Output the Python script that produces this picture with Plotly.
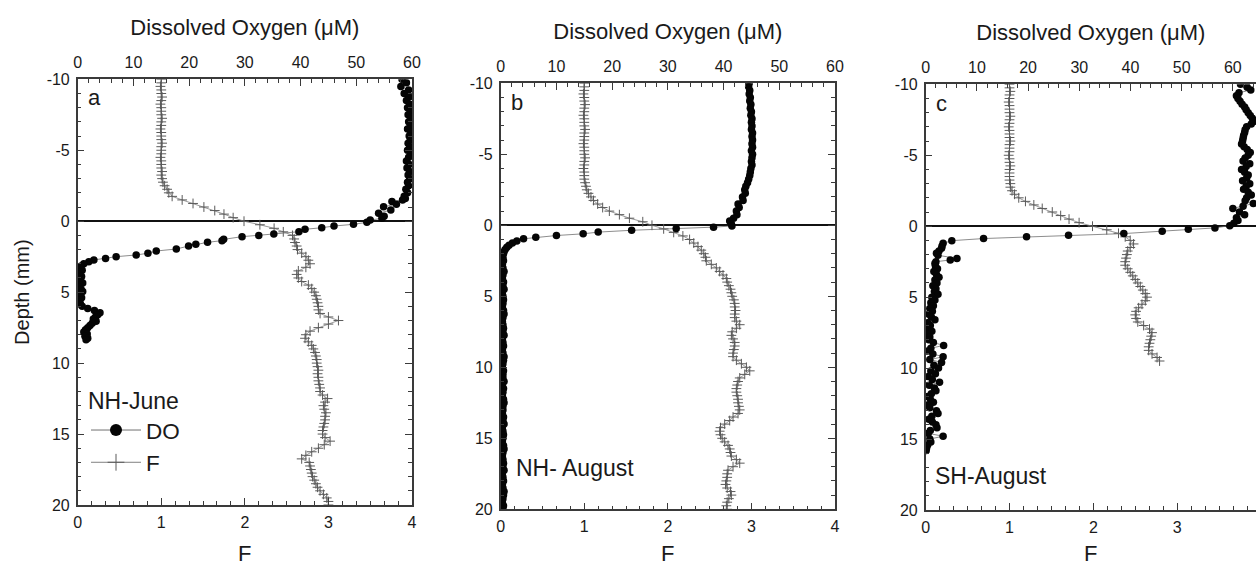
import plotly.graph_objects as go

FONT = "Arial, 'Liberation Sans', sans-serif"
W, H = 1256, 566

# ---------------------------------------------------------------- data
# Depth grid (mm) of the fluorescence (F) profiles
F_DEPTH = [-10.0, -9.75, -9.5, -9.25, -9.0, -8.75, -8.5, -8.25, -8.0, -7.75,
           -7.5, -7.25, -7.0, -6.75, -6.5, -6.25, -6.0, -5.75, -5.5, -5.25,
           -5.0, -4.75, -4.5, -4.25, -4.0, -3.75, -3.5, -3.25, -3.0, -2.75,
           -2.5, -2.25, -2.0, -1.75, -1.5, -1.25, -1.0, -0.75, -0.5, -0.25,
           0.0, 0.25, 0.5, 0.75, 1.0, 1.25, 1.5, 1.75, 2.0, 2.25,
           2.5, 2.75, 3.0, 3.25, 3.5, 3.75, 4.0, 4.25, 4.5, 4.75,
           5.0, 5.25, 5.5, 5.75, 6.0, 6.25, 6.5, 6.75, 7.0, 7.25,
           7.5, 7.75, 8.0, 8.25, 8.5, 8.75, 9.0, 9.25, 9.5, 9.75,
           10.0, 10.25, 10.5, 10.75, 11.0, 11.25, 11.5, 11.75, 12.0, 12.25,
           12.5, 12.75, 13.0, 13.25, 13.5, 13.75, 14.0, 14.25, 14.5, 14.75,
           15.0, 15.25, 15.5, 15.75, 16.0, 16.25, 16.5, 16.75, 17.0, 17.25,
           17.5, 17.75, 18.0, 18.25, 18.5, 18.75, 19.0, 19.25, 19.5, 19.75,
           20.0]

# NH-June fluorescence
A_F = [1.00, 1.00, 0.99, 1.00, 1.00, 1.01, 1.00, 0.99, 1.00, 1.00,
       1.00, 1.01, 1.00, 1.00, 0.99, 1.00, 1.00, 1.00, 1.01, 1.00,
       1.00, 1.00, 0.99, 1.00, 1.00, 1.00, 1.01, 1.00, 1.01, 1.02,
       1.04, 1.07, 1.09, 1.13, 1.25, 1.38, 1.51, 1.64, 1.75, 1.86,
       1.99, 2.18, 2.35, 2.46, 2.57, 2.59, 2.60, 2.62, 2.63, 2.68,
       2.73, 2.76, 2.78, 2.73, 2.64, 2.62, 2.64, 2.68, 2.76, 2.80,
       2.83, 2.85, 2.86, 2.87, 2.88, 2.88, 2.90, 3.00, 3.12, 3.00,
       2.88, 2.78, 2.73, 2.72, 2.76, 2.80, 2.82, 2.84, 2.85, 2.86,
       2.86, 2.87, 2.88, 2.87, 2.88, 2.88, 2.89, 2.90, 2.90, 2.93,
       2.99, 2.96, 2.94, 2.95, 2.97, 2.96, 2.96, 2.95, 2.94, 2.93,
       2.93, 2.96, 3.02, 2.95, 2.88, 2.80, 2.73, 2.68, 2.77, 2.78,
       2.79, 2.80, 2.81, 2.83, 2.85, 2.87, 2.90, 2.94, 2.98, 3.00,
       3.00]

# NH-August fluorescence
B_F = [1.00, 1.00, 1.00, 0.99, 1.00, 1.00, 1.01, 1.00, 1.00, 0.99,
       1.00, 1.00, 1.00, 1.01, 1.00, 1.00, 1.00, 0.99, 1.00, 1.00,
       1.00, 1.01, 1.00, 1.00, 0.99, 1.00, 1.00, 1.00, 1.01, 1.02,
       1.03, 1.05, 1.08, 1.11, 1.16, 1.22, 1.30, 1.42, 1.54, 1.70,
       1.81, 1.95, 2.07, 2.18, 2.26, 2.31, 2.36, 2.40, 2.43, 2.45,
       2.46, 2.52, 2.58, 2.62, 2.66, 2.70, 2.71, 2.73, 2.75, 2.76,
       2.77, 2.79, 2.80, 2.80, 2.81, 2.80, 2.80, 2.82, 2.86, 2.82,
       2.77, 2.76, 2.78, 2.80, 2.80, 2.79, 2.78, 2.78, 2.82, 2.88,
       2.94, 2.98, 2.92, 2.86, 2.84, 2.83, 2.82, 2.82, 2.83, 2.84,
       2.84, 2.85, 2.86, 2.84, 2.78, 2.74, 2.68, 2.63, 2.62, 2.63,
       2.65, 2.68, 2.72, 2.74, 2.75, 2.76, 2.82, 2.86, 2.78, 2.72,
       2.71, 2.71, 2.70, 2.69, 2.71, 2.75, 2.76, 2.73, 2.71, 2.70,
       2.71]

# SH-August fluorescence (profile ends at 9.5 mm)
C_F = [1.00, 1.00, 1.01, 1.00, 1.00, 0.99, 1.00, 1.00, 1.00, 1.01,
       1.00, 1.00, 0.99, 1.00, 1.00, 1.00, 1.01, 1.00, 1.00, 1.00,
       0.99, 1.00, 1.00, 1.01, 1.00, 1.00, 1.00, 1.00, 1.01, 1.01,
       1.03, 1.06, 1.11, 1.19, 1.29, 1.39, 1.51, 1.61, 1.71, 1.83,
       1.99, 2.16, 2.30, 2.38, 2.44, 2.48, 2.44, 2.41, 2.40, 2.39,
       2.38, 2.38, 2.41, 2.44, 2.47, 2.50, 2.53, 2.56, 2.59, 2.62,
       2.64, 2.62, 2.58, 2.54, 2.51, 2.50, 2.51, 2.53, 2.60, 2.67,
       2.70, 2.69, 2.68, 2.67, 2.66, 2.66, 2.70, 2.76, 2.79]
C_F_DEPTH = F_DEPTH[:len(C_F)]

# NH-June dissolved oxygen (uM)
A_DO_DEPTH = [-10.0, -9.75, -9.5, -9.25, -9.0, -8.75, -8.5, -8.25, -8.0, -7.75,
              -7.5, -7.25, -7.0, -6.75, -6.5, -6.25, -6.0, -5.75, -5.5, -5.25,
              -5.0, -4.75, -4.5, -4.25, -4.0, -3.75, -3.5, -3.25, -3.0, -2.75,
              -2.5, -2.25, -2.0, -1.75, -1.6, -1.49, -1.38, -1.2, -1.02, -0.79,
              -0.56, -0.35, -0.2, -0.08, 0.08, 0.22, 0.34, 0.46, 0.57, 0.74,
              0.9, 1.0, 1.09, 1.28, 1.37, 1.49, 1.63, 1.75, 1.96, 2.1,
              2.26, 2.38, 2.5, 2.62, 2.73, 2.85, 3.0, 3.15, 3.3, 3.45,
              3.6, 3.75, 3.9, 4.05, 4.2, 4.35, 4.5, 4.65, 4.8, 4.95,
              5.1, 5.25, 5.4, 5.55, 5.7, 5.85, 6.0, 6.15, 6.3, 6.45,
              6.6, 6.75, 6.9, 7.05, 7.2, 7.35, 7.5, 7.65, 7.8, 7.95,
              8.1, 8.25, 8.35]
A_DO = [58.2, 59.0, 58.0, 59.4, 58.6, 59.5, 59.0, 59.6, 59.2, 59.7,
        59.3, 59.8, 59.4, 59.7, 59.2, 59.8, 59.5, 59.7, 59.3, 59.6,
        59.2, 59.8, 59.4, 59.0, 59.5, 59.1, 59.6, 59.3, 59.6, 59.2,
        59.4, 58.9, 59.2, 58.6, 58.8, 58.3, 56.4, 57.2, 54.9, 56.2,
        54.0, 55.0, 54.6, 52.5, 51.9, 49.5, 46.0, 43.8, 40.8, 39.7,
        35.2, 32.5, 29.5, 26.2, 25.9, 23.3, 21.2, 19.9, 17.7, 14.1,
        12.6, 10.5, 6.9, 5.0, 2.9, 2.0, 1.1, 0.6, 0.3, 0.8,
        0.4, 0.2, 0.7, 0.3, 0.5, 0.9, 0.4, 0.2, 0.6, 0.9,
        0.5, 0.3, 0.7, 0.4, 0.2, 0.5, 0.8, 1.8, 3.0, 4.0,
        3.6, 3.2, 2.8, 3.3, 2.6, 2.2, 1.8, 1.4, 1.1, 1.7,
        1.3, 1.8, 1.5]

# NH-August dissolved oxygen (uM)
B_DO_DEPTH = [-10.0, -9.75, -9.5, -9.25, -9.0, -8.75, -8.5, -8.25, -8.0, -7.75,
              -7.5, -7.25, -7.0, -6.75, -6.5, -6.25, -6.0, -5.75, -5.5, -5.25,
              -5.0, -4.75, -4.5, -4.25, -4.0, -3.75, -3.5, -3.25, -3.0, -2.75,
              -2.5, -2.25, -2.0, -1.75, -1.5, -1.25, -1.0, -0.75, -0.5, -0.3,
              -0.1, 0.05, 0.13, 0.22, 0.35, 0.48, 0.6, 0.72, 0.84, 0.95,
              1.1, 1.25, 1.4, 1.55, 1.7, 1.85, 2.0, 2.25, 2.5, 2.75,
              3.0, 3.25, 3.5, 3.75, 4.0, 4.25, 4.5, 4.75, 5.0, 5.25,
              5.5, 5.75, 6.0, 6.25, 6.5, 6.75, 7.0, 7.25, 7.5, 7.75,
              8.0, 8.25, 8.5, 8.75, 9.0, 9.25, 9.5, 9.75, 10.0, 10.25,
              10.5, 10.75, 11.0, 11.25, 11.5, 11.75, 12.0, 12.25, 12.5, 12.75,
              13.0, 13.25, 13.5, 13.75, 14.0, 14.25, 14.5, 14.75, 15.0, 15.25,
              15.5, 15.75, 16.0, 16.25, 16.5, 16.75, 17.0, 17.25, 17.5, 17.75,
              18.0, 18.25, 18.5, 18.75, 19.0, 19.25, 19.5, 19.75, 20.0]
B_DO = [44.6, 44.5, 44.7, 44.6, 44.8, 44.7, 44.9, 44.8, 45.0, 44.9,
        45.1, 45.0, 45.1, 45.0, 45.2, 45.1, 45.2, 45.1, 45.2, 45.0,
        45.2, 45.1, 45.0, 45.1, 44.9, 44.8, 44.7, 44.5, 44.3, 44.0,
        43.8, 43.9, 43.4, 43.5, 42.6, 42.8, 42.3, 42.4, 41.8, 41.1,
        41.4, 41.5, 38.2, 31.5, 23.5, 17.5, 14.8, 10.0, 6.3, 4.1,
        2.9, 2.1, 1.5, 1.1, 0.8, 0.6, 0.5, 0.4, 0.5, 0.3,
        0.4, 0.6, 0.4, 0.3, 0.5, 0.4, 0.6, 0.3, 0.4, 0.5,
        0.4, 0.3, 0.5, 0.6, 0.4, 0.3, 0.4, 0.5, 0.4, 0.6,
        0.3, 0.4, 0.5, 0.3, 0.4, 0.6, 0.5, 0.4, 0.3, 0.5,
        0.4, 0.4, 0.6, 0.3, 0.5, 0.4, 0.3, 0.5, 0.6, 0.4,
        0.4, 0.3, 0.5, 0.4, 0.6, 0.3, 0.4, 0.5, 0.4, 0.3,
        0.5, 0.6, 0.4, 0.3, 0.4, 0.5, 0.4, 0.6, 0.3, 0.4,
        0.5, 0.3, 0.4, 0.6, 0.5, 0.4, 0.3, 0.5, 0.4]

# SH-August dissolved oxygen (uM)
C_DO_DEPTH = [-10.0, -9.8, -9.6, -9.4, -9.2, -9.0, -8.8, -8.6, -8.4, -8.2,
              -8.0, -7.8, -7.6, -7.4, -7.2, -7.0, -6.8, -6.6, -6.4, -6.2,
              -6.0, -5.8, -5.6, -5.4, -5.2, -5.0, -4.8, -4.6, -4.4, -4.2,
              -4.0, -3.8, -3.6, -3.4, -3.2, -3.0, -2.8, -2.6, -2.4, -2.2,
              -2.0, -1.8, -1.6, -1.4, -1.25, -1.0, -0.8, -0.6, -0.4, -0.2,
              -0.04, 0.12, 0.21, 0.35, 0.52, 0.64, 0.75, 0.87, 1.02, 1.21,
              1.4, 1.56, 1.75, 1.91, 2.05, 2.27, 2.38, 2.5, 2.62, 2.8,
              3.0, 3.2, 3.4, 3.6, 3.8, 4.0, 4.2, 4.4, 4.6, 4.8,
              5.0, 5.2, 5.4, 5.6, 5.8, 6.0, 6.2, 6.4, 6.6, 6.8,
              7.0, 7.2, 7.4, 7.6, 7.8, 8.0, 8.2, 8.4, 8.6, 8.8,
              9.0, 9.2, 9.4, 9.6, 9.8, 10.0, 10.2, 10.4, 10.6, 10.8,
              11.0, 11.2, 11.4, 11.6, 11.8, 12.0, 12.2, 12.4, 12.6, 12.8,
              13.0, 13.2, 13.4, 13.6, 13.8, 14.0, 14.2, 14.4, 14.6, 14.8,
              15.0, 15.2, 15.4, 15.6, 15.8]
C_DO = [61.5, 62.8, 63.5, 61.2, 60.7, 61.0, 61.4, 61.8, 62.3, 62.6,
        63.0, 63.4, 63.8, 64.2, 63.6, 62.7, 62.4, 62.3, 62.1, 62.0,
        61.9, 61.7, 62.2, 62.8, 63.4, 63.0, 62.4, 62.0, 63.3, 62.6,
        61.7, 62.3, 63.0, 62.7, 61.9, 63.3, 62.6, 62.1, 63.0, 63.6,
        62.7, 62.4, 64.0, 62.0, 60.0, 61.3, 62.3, 60.7, 61.0, 60.2,
        59.4, 56.5, 51.3, 46.2, 38.7, 27.9, 19.7, 11.3, 5.1, 3.4,
        3.2, 3.1, 2.6, 2.1, 2.4, 6.1, 4.8, 2.0, 1.8, 1.9,
        2.3, 1.6, 2.1, 2.6, 1.8, 2.2, 1.4, 2.0, 1.7, 2.4,
        1.2, 1.8, 1.0, 1.5, 0.8, 1.3, 0.6, 1.1, 1.8, 0.4,
        0.9, 0.5, 1.2, 0.3, 0.8, 0.6, 1.5, 3.5, 1.0, 0.4,
        1.4, 3.4, 0.8, 3.1, 1.6, 2.5, 1.0, 1.9, 0.5, 1.3,
        2.7, 0.7, 1.7, 2.0, 1.1, 0.4, 0.9, 1.5, 0.3, 0.8,
        2.1, 2.4, 1.2, 0.6, 1.3, 2.0, 2.2, 0.9, 0.5, 3.4,
        0.8, 1.0, 0.4, 0.2, 0.1]

DEPTH_TICKS = [-10, -5, 0, 5, 10, 15, 20]
DEPTH_LABELS = ["-10", "-5", "0", "5", "10", "15", "20"]
PANEL_LETTERS = ["a", "b", "c"]

# ---------------------------------------------------------------- layout
# plot frames in pixels: left, right, top, bottom; panel c runs past the page edge
FRAMES = [(77.7, 412.0, 79.3, 505.0),
          (500.7, 835.0, 83.3, 509.3),
          (925.7, 1261.0, 84.3, 510.0)]
F_MAX, DO_MAX = [4.0, 4.0, 4.0], [60.0, 60.0, 65.5]

AX = "#3a3a3a"
TXT = "#1a1a1a"


def px(x):
    return x / W


def py(y):
    return 1 - y / H


fig = go.Figure()

profiles = [(F_DEPTH, A_F, A_DO_DEPTH, A_DO),
            (F_DEPTH, B_F, B_DO_DEPTH, B_DO),
            (C_F_DEPTH, C_F, C_DO_DEPTH, C_DO)]

for i, (fd, fv, dd, dv) in enumerate(profiles):
    n = i + 1
    xf = "x" if n == 1 else f"x{n}"
    xo = f"x{n + 3}"
    yy = "y" if n == 1 else f"y{n}"
    fig.add_trace(go.Scatter(
        x=fv, y=fd, xaxis=xf, yaxis=yy, mode="lines+markers", showlegend=False,
        line=dict(color="#808080", width=0.8),
        marker=dict(symbol="cross-thin", size=7, line=dict(color="#5a5a5a", width=1))))
    fig.add_trace(go.Scatter(
        x=dv, y=dd, xaxis=xo, yaxis=yy, mode="lines+markers", showlegend=False,
        line=dict(color="#707070", width=0.8),
        marker=dict(symbol="circle", size=7.5, color="#050505")))

# legend keys for panel a
fig.add_trace(go.Scatter(x=[None], y=[None], xaxis="x", yaxis="y", name="DO",
                         mode="lines+markers", line=dict(color="#707070", width=1),
                         marker=dict(symbol="circle", size=12, color="#050505")))
fig.add_trace(go.Scatter(x=[None], y=[None], xaxis="x", yaxis="y", name="F",
                         mode="lines+markers", line=dict(color="#808080", width=1),
                         marker=dict(symbol="cross-thin", size=12,
                                     line=dict(color="#5a5a5a", width=1))))

layout = dict(width=W, height=H,
              margin=dict(l=0, r=0, t=0, b=0, autoexpand=False),
              paper_bgcolor="white", plot_bgcolor="white",
              font=dict(family=FONT, color=TXT), annotations=[])

for i, (l, r, t, b) in enumerate(FRAMES):
    n = i + 1
    right = min(r, W)
    frac = (right - l) / (r - l)
    xdom = [px(l), px(right)]
    ydom = [py(b), py(t)]
    ykey = "yaxis" if n == 1 else f"yaxis{n}"
    yname = "y" if n == 1 else f"y{n}"
    xname = "x" if n == 1 else f"x{n}"
    xkey = "xaxis" if n == 1 else f"xaxis{n}"

    layout[xkey] = dict(
        domain=xdom, range=[0, F_MAX[i] * frac], anchor=yname, side="bottom",
        automargin=False,
        showline=True, linecolor=AX, linewidth=1.5, mirror=False,
        showgrid=False, zeroline=False,
        tickmode="linear", tick0=0, dtick=1, ticks="inside", ticklen=7,
        tickwidth=1.2, tickcolor=AX, ticklabelstandoff=2,
        minor=dict(ticks="inside", ticklen=4, tickwidth=1, tickcolor=AX,
                   tickmode="linear", tick0=0, dtick=1 / 6),
        tickfont=dict(size=16, color=TXT),
        title=dict(text="F", font=dict(size=22, color=TXT), standoff=18))
    layout[f"xaxis{n + 3}"] = dict(
        domain=xdom, range=[0, DO_MAX[i] * frac], anchor=yname, overlaying=xname,
        side="top", automargin=False,
        showline=True, linecolor=AX, linewidth=1.5,
        showgrid=False, zeroline=False,
        tickmode="linear", tick0=0, dtick=10, ticks="inside", ticklen=7,
        tickwidth=1.2, tickcolor=AX, ticklabelstandoff=3,
        minor=dict(ticks="inside", ticklen=4, tickwidth=1, tickcolor=AX,
                   tickmode="linear", tick0=0, dtick=2),
        tickfont=dict(size=16, color=TXT),
        title=dict(text="Dissolved Oxygen (\u03bcM)",
                   font=dict(size=22, color=TXT), standoff=12))
    layout[ykey] = dict(
        domain=ydom, range=[20, -10], anchor=xname, automargin=False,
        showline=True, linecolor=AX, linewidth=1.5,
        mirror="ticks" if r <= W else False,
        showgrid=False, zeroline=True, zerolinecolor="#111111", zerolinewidth=1.5,
        tickmode="array", tickvals=DEPTH_TICKS, ticktext=DEPTH_LABELS,
        ticks="inside", ticklen=7, tickwidth=1.2, tickcolor=AX, ticklabelstandoff=3,
        minor=dict(ticks="inside", ticklen=4, tickwidth=1, tickcolor=AX,
                   tickmode="linear", tick0=0, dtick=1),
        tickfont=dict(size=16, color=TXT),
        title=dict(text="Depth (mm)" if n == 1 else "",
                   font=dict(size=20, color=TXT), standoff=12))

    layout["annotations"].append(dict(
        text=PANEL_LETTERS[i], xref="paper", yref="paper",
        x=px(l + 8), y=py(t + 18 + (1 if n > 1 else 0)),
        xanchor="left", yanchor="middle", showarrow=False,
        font=dict(size=22, color=TXT)))

# mirrored depth ticks at the cut-off right frame of panel c
layout["yaxis7"] = dict(
    overlaying="y3", side="right", anchor="free", position=1.0, automargin=False,
    range=[20, -10], showline=False, showgrid=False, zeroline=False,
    tickmode="array", tickvals=DEPTH_TICKS, showticklabels=False,
    ticks="inside", ticklen=2, tickwidth=1.2, tickcolor=AX)

layout["annotations"] += [
    dict(text="NH- August", xref="paper", yref="paper", x=px(514), y=py(468),
         xanchor="left", yanchor="middle", showarrow=False,
         font=dict(size=23, color=TXT)),
    dict(text="SH-August", xref="paper", yref="paper", x=px(933), y=py(476),
         xanchor="left", yanchor="middle", showarrow=False,
         font=dict(size=23, color=TXT)),
]

layout["legend"] = dict(
    x=px(86), y=py(379), xanchor="left", yanchor="top",
    bgcolor="rgba(0,0,0,0)", borderwidth=0, itemwidth=50,
    title=dict(text="NH-June", font=dict(size=23, color=TXT)),
    font=dict(size=22.5, color=TXT))

fig.update_layout(**layout)
fig.write_html("out.html")
